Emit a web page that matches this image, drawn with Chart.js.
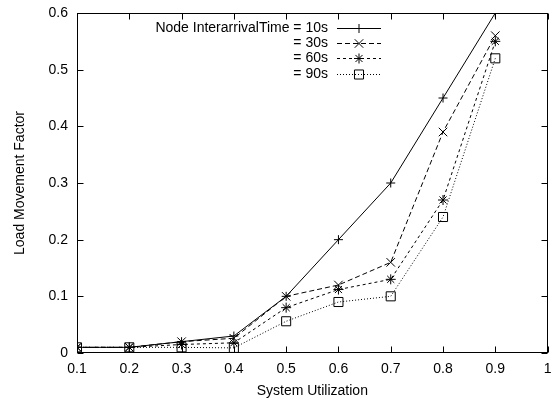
<!DOCTYPE html>
<html>
<head>
<meta charset="utf-8">
<script src="https://cdn.jsdelivr.net/npm/chart.js@4.4.1/dist/chart.umd.min.js"></script>
<style>
html, body { margin: 0; padding: 0; background: #fff; }
#wrap { width: 555px; height: 401px; }
</style>
</head>
<body>
<div id="wrap"><canvas id="chart"></canvas></div>
<script>
// system utilization values on the x axis
const utilization = [0.1, 0.2, 0.3, 0.4, 0.5, 0.6, 0.7, 0.8, 0.9];

// load movement factor for each node interarrival time
const time10s = [0.01, 0.01, 0.02, 0.03, 0.1, 0.2, 0.3, 0.45, 0.6];
const time30s = [0.01, 0.01, 0.02, 0.026, 0.1, 0.12, 0.16, 0.39, 0.56];
const time60s = [0.01, 0.01, 0.015, 0.018, 0.08, 0.112, 0.13, 0.27, 0.55];
const time90s = [0.01, 0.01, 0.01, 0.009, 0.056, 0.09, 0.1, 0.24, 0.52];

const seriesLabels = ['Node InterarrivalTime = 10s', '= 30s', '= 60s', '= 90s'];

const xTicks = [0.1, 0.2, 0.3, 0.4, 0.5, 0.6, 0.7, 0.8, 0.9, 1];
const yTicks = [0, 0.1, 0.2, 0.3, 0.4, 0.5, 0.6];

const FONT = 'Liberation Sans, Arial, Helvetica, sans-serif';
const FSIZE = 14;

function pts(ys) {
	return utilization.map((x, i) => ({ x: x, y: ys[i] }));
}

function series(label, ys, dash, style, radius) {
	return {
		label: label,
		data: pts(ys),
		borderColor: '#000',
		borderWidth: 1,
		borderDash: dash,
		fill: false,
		tension: 0,
		pointStyle: style,
		pointRadius: radius,
		pointBorderColor: '#000',
		pointBorderWidth: 1,
		pointBackgroundColor: 'rgba(0,0,0,0)',
	};
}

// gnuplot style frame, inward ticks and key
const frame = {
	id: 'frame',
	afterDraw(chart) {
		const ctx = chart.ctx;
		const a = chart.chartArea;
		const x = chart.scales.x;
		const y = chart.scales.y;
		ctx.save();
		ctx.strokeStyle = '#000';
		ctx.lineWidth = 1;
		ctx.setLineDash([]);
		const l = Math.round(a.left) + 0.5, r = Math.round(a.right) - 0.5;
		const t = Math.round(a.top) + 0.5, b = Math.round(a.bottom) - 0.5;
		ctx.strokeRect(l, t, r - l, b - t);
		ctx.beginPath();
		xTicks.forEach((v) => {
			const px = Math.round(x.getPixelForValue(v)) + 0.5;
			ctx.moveTo(px, b); ctx.lineTo(px, b - 6);
			ctx.moveTo(px, t); ctx.lineTo(px, t + 6);
		});
		yTicks.forEach((v) => {
			const py = Math.round(y.getPixelForValue(v)) + 0.5;
			ctx.moveTo(l, py); ctx.lineTo(l + 6, py);
			ctx.moveTo(r, py); ctx.lineTo(r - 6, py);
		});
		ctx.stroke();

		// key
		ctx.font = FSIZE + 'px ' + FONT;
		ctx.fillStyle = '#000';
		ctx.textAlign = 'right';
		ctx.textBaseline = 'middle';
		chart.data.datasets.forEach((ds, i) => {
			const ky = Math.round(27.5 + 15.4 * i) + 0.5;
			ctx.fillText(ds.label, 328, ky);
			ctx.beginPath();
			ctx.setLineDash(ds.borderDash);
			ctx.moveTo(337, ky);
			ctx.lineTo(381, ky);
			ctx.stroke();
			ctx.setLineDash([]);
			ctx.fillStyle = 'rgba(0,0,0,0)';
			Chart.helpers.drawPoint(ctx, {
				pointStyle: ds.pointStyle,
				radius: ds.pointRadius,
				rotation: 0,
				borderWidth: 1,
			}, 359, ky);
			ctx.fillStyle = '#000';
		});
		ctx.restore();
	},
};

const ctx = document.getElementById('chart').getContext('2d');
const myChart = new Chart(ctx, {
	type: 'line',
	data: {
		datasets: [
			series(seriesLabels[0], time10s, [], 'cross', 4.5),
			series(seriesLabels[1], time30s, [5, 3], 'crossRot', 6),
			series(seriesLabels[2], time60s, [3, 3], 'star', 5),
			series(seriesLabels[3], time90s, [1, 2], 'rect', 6.4),
		],
	},
	options: {
		responsive: true,
		maintainAspectRatio: false,
		animation: false,
		layout: { padding: { top: 13, right: 2, left: 0, bottom: 0 } },
		plugins: {
			legend: { display: false },
			tooltip: { enabled: false },
		},
		scales: {
			x: {
				type: 'linear',
				min: 0.1,
				max: 1,
				afterBuildTicks: (s) => { s.ticks = xTicks.map((v) => ({ value: v })); },
				afterFit: (s) => { s.height = 48; s.paddingLeft = 0; s.paddingRight = 0; },
				grid: { display: false, drawTicks: false },
				border: { display: false },
				ticks: {
					color: '#000',
					padding: 8,
					maxRotation: 0,
					autoSkip: false,
					font: { family: FONT, size: FSIZE },
					callback: (v) => String(Number(v.toFixed(1))),
				},
				title: {
					display: true,
					text: 'System Utilization',
					color: '#000',
					padding: { top: 0, bottom: 1 },
					font: { family: FONT, size: FSIZE },
				},
			},
			y: {
				min: 0,
				max: 0.6,
				afterBuildTicks: (s) => { s.ticks = yTicks.map((v) => ({ value: v })); },
				afterFit: (s) => { s.width = 77; s.paddingTop = 0; s.paddingBottom = 0; },
				grid: { display: false, drawTicks: false },
				border: { display: false },
				ticks: {
					color: '#000',
					padding: 9,
					autoSkip: false,
					font: { family: FONT, size: FSIZE },
					callback: (v) => String(Number(v.toFixed(1))),
				},
				title: {
					display: true,
					text: 'Load Movement Factor',
					color: '#000',
					padding: { top: 12, bottom: 0 },
					font: { family: FONT, size: FSIZE },
				},
			},
		},
	},
	plugins: [frame],
});
</script>
</body>
</html>
